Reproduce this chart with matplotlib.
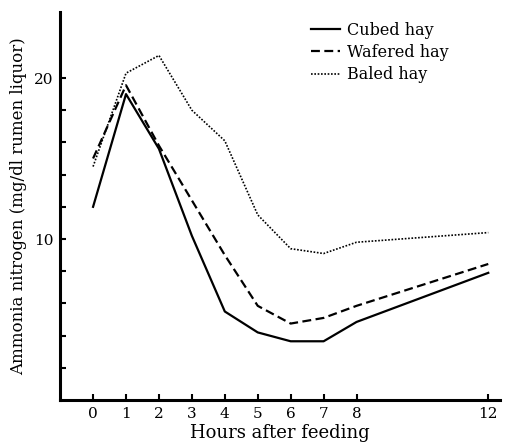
import numpy as np
import matplotlib.pyplot as plt

plt.rcParams['font.family'] = ['DejaVu Serif']

hours = [0, 1, 2, 3, 4, 5, 6, 7, 8, 12]
cubed = [12.0, 19.0, 15.6, 10.2, 5.5, 4.2, 3.65, 3.65, 4.85, 7.9]
wafered = [15.0, 19.55, 15.8, 12.4, 9.0, 5.85, 4.75, 5.1, 5.85, 8.45]
baled = [14.5, 20.3, 21.4, 18.0, 16.1, 11.5, 9.4, 9.1, 9.8, 10.4]

xticks = [0, 1, 2, 3, 4, 5, 6, 7, 8, 12]
yticks = np.arange(2, 21, 2)
ylabels = ["10" if v == 10 else "20" if v == 20 else "" for v in yticks]

fig = plt.figure(figsize=(5.14, 4.44), dpi=100)
ax = fig.add_axes([0.117, 0.099, 0.856, 0.874])

ax.plot(hours, cubed, color="black", lw=1.6, ls="-", label="Cubed hay")
ax.plot(hours, wafered, color="black", lw=1.6, ls=(0, (4, 2)), label="Wafered hay")
ax.plot(hours, baled, color="black", lw=1.2, ls=(0, (1, 1)), label="Baled hay")

ax.set_xlim(-1, 12.36)
ax.set_ylim(0, 24.1)
ax.set_xticks(xticks)
ax.set_xticklabels([str(t) for t in xticks])
ax.set_yticks(yticks)
ax.set_yticklabels(ylabels)
ax.tick_params(direction="in", length=4, width=1.5, labelsize=11, pad=5)

for side in ["top", "right"]:
    ax.spines[side].set_visible(False)
for side in ["left", "bottom"]:
    ax.spines[side].set_linewidth(2.2)

ax.set_xlabel("Hours after feeding", fontsize=13, labelpad=2)
ax.set_ylabel("Ammonia nitrogen (mg/dl rumen liquor)", fontsize=12, labelpad=5)

ax.legend(loc="upper right", bbox_to_anchor=(0.915, 1.012), frameon=False,
          fontsize=11.5, handlelength=1.8, handletextpad=0.45, labelspacing=0.33)

fig.savefig("out.png", dpi=100)
